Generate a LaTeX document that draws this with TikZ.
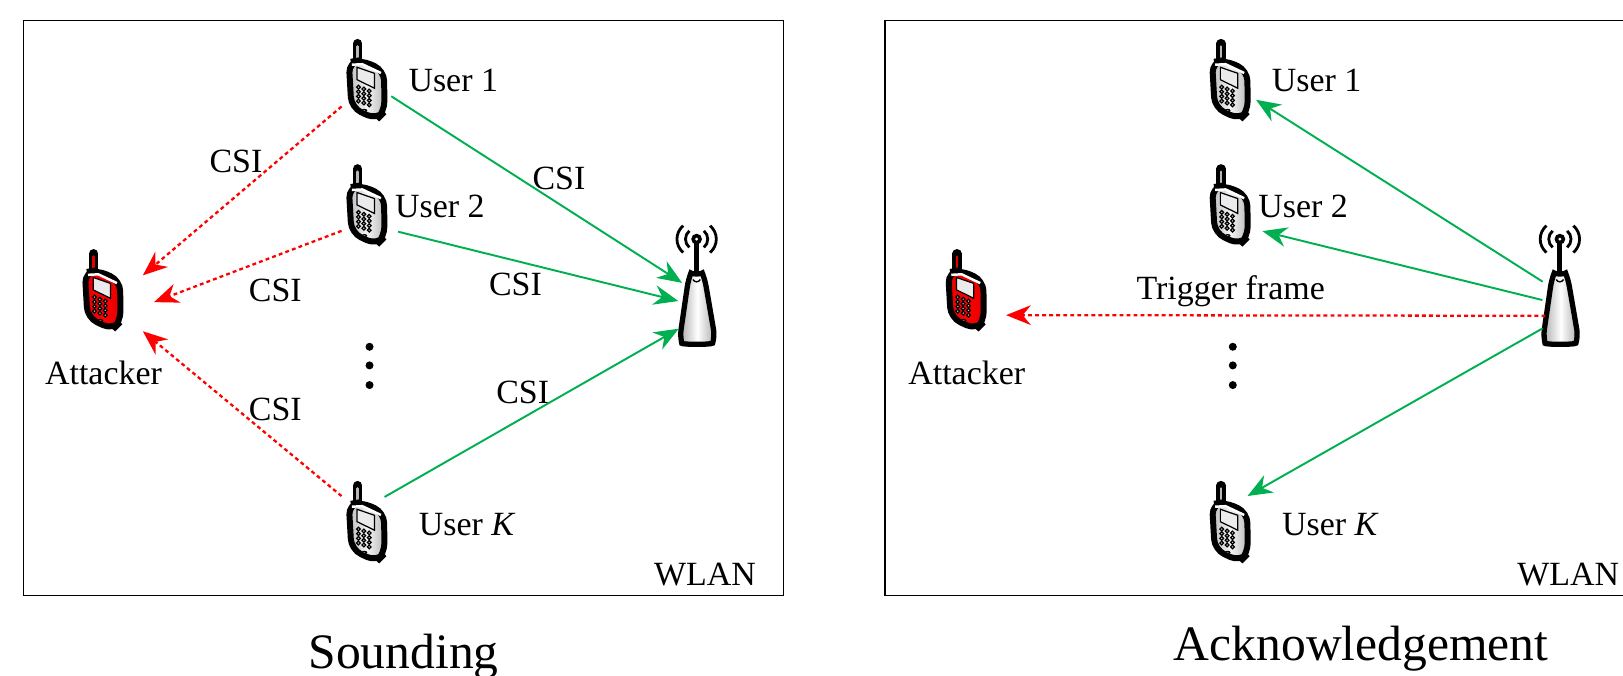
\documentclass[tikz,border=0pt]{standalone}
\usepackage{fontspec}
\setmainfont{Liberation Serif}
\usetikzlibrary{arrows.meta}

\tikzset{
  lab/.style={font=\fontsize{9.65}{11}\selectfont,inner sep=0pt},
  title/.style={font=\fontsize{14.1}{16}\selectfont,inner sep=0pt},
  phonebox/.style={rectangle,minimum width=0.497cm,minimum height=0.828cm,inner sep=0pt,outer sep=0pt},
  attbox/.style={phonebox,minimum width=0.807cm},
  apbox/.style={rectangle,minimum width=0.29cm,minimum height=1.242cm,inner sep=0pt,outer sep=0pt},
  good/.style={draw=csigreen,line width=0.55pt,-{Stealth[length=7pt,width=5.6pt]}},
  bad/.style={draw=red,line width=0.65pt,dash pattern=on 1.1pt off 0.9pt,-{Stealth[length=7pt,width=5.6pt,fill=red]}},
  vdot/.style={circle,fill=black,minimum size=0.08cm,inner sep=0pt},
  pics/phone/.style 2 args={code={
    \draw[line width=2.6pt,line cap=round] (-8.4,-36) -- (-8.4,-20);
    \draw[line width=0.8pt,line cap=round,draw=#1] (-8.4,-33) -- (-8.4,-21);
    \draw[line width=1.7pt,rounded corners=3pt,left color=#1,right color=#1,middle color=#2]
      (-17,-18) -- (-5,-20) -- (17,-10) -- (17.5,30) -- (10,37.5) -- (-14.5,26) -- cycle;
    \draw[white,line width=0.7pt] (-14,-15.5) -- (-4,-16) -- (14,-7.5);
    \draw[line width=0.35pt,fill=blue!4!gray!15] (-9,-13) -- (7.7,-7.2) -- (7.7,7.2) -- (-9,-1) -- cycle;
    \foreach \i in {0,1,2}
      \foreach \j in {0,1,2,3}
        \draw[line width=0.35pt,fill=gray!35] ({-7.7+5.2*\i},{6.1+1.9*\i+4.5*\j}) circle (1.8);
    \draw[line width=0.35pt,fill=gray!35] (-1.9,28.7) ellipse (2 and 1);
  }},
  pics/antenna/.style={code={
    \draw[line width=1.4pt] (0,-43) -- (0,-7);
    \draw[line width=1.5pt,left color=gray!65,right color=gray!65,middle color=white,rounded corners=2pt]
      (-8,-5) .. controls (-6,-10) and (6,-10) .. (8,-5) -- (17.5,50)
      .. controls (15,58) and (-14,58) .. (-16,50) -- cycle;
    \draw[line width=0.4pt,fill=white] (-3.5,-5) .. controls (-2,-2) and (2,-2) .. (3.5,-5);
    \fill (0,-44) circle (5.2);
    \fill[white] (0,-44) circle (1.5);
    \draw[line width=0.8pt] (-7,-52) .. controls (-12,-48) and (-12,-40) .. (-7,-36);
    \draw[line width=0.8pt] (7,-52) .. controls (12,-48) and (12,-40) .. (7,-36);
    \draw[line width=0.8pt] (-13,-57) .. controls (-21,-50) and (-21,-38) .. (-13,-31);
    \draw[line width=0.8pt] (13,-57) .. controls (21,-50) and (21,-38) .. (13,-31);
  }}
}
\definecolor{csigreen}{HTML}{00B050}

\begin{document}
\begin{tikzpicture}[x=0.01035cm,y=-0.01035cm]
  \useasboundingbox (0,0) rectangle (1568,653);
  \clip (0,0) rectangle (1568,653);

  \draw[line width=0.3pt] (23,20) rectangle (757,575);
  \draw[line width=0.3pt] (1568,20) -- (855,20) -- (855,575) -- (1568,575);

  \node[phonebox] (su1) at (354,78) {};
  \node[phonebox] (su2) at (354,199) {};
  \node[phonebox] (suk) at (354,505) {};
  \node[attbox] (satt) at (99,281) {};
  \node[apbox] (sap) at (673,275) {};
  \node[phonebox] (au1) at (1188,78) {};
  \node[phonebox] (au2) at (1188,199) {};
  \node[phonebox] (auk) at (1188,505) {};
  \node[attbox] (aatt) at (933,281) {};
  \node[apbox] (aap) at (1507,275) {};

  \foreach \p in {su1,su2,suk,au1,au2,auk}
    \pic at (\p) {phone={gray!55}{gray!8}};
  \foreach \p in {satt,aatt}
    \pic at (\p) {phone={red!90!black}{red}};
  \foreach \p in {sap,aap}
    \pic at (\p) {antenna};

  \node[lab,anchor=west] (su1t) at (394,78) {User 1};
  \node[lab,anchor=west] (su2t) at (381,199) {User 2};
  \node[lab,anchor=west] (sukt) at (404,507) {User \textit{K}};
  \node[lab] (satt t) at (100,360) {Attacker};
  \node[lab,anchor=west] (au1t) at (1228,78) {User 1};
  \node[lab,anchor=west] (au2t) at (1215,199) {User 2};
  \node[lab,anchor=west] (aukt) at (1238,507) {User \textit{K}};
  \node[lab] (aatt t) at (934,360) {Attacker};

  \node[lab] (c1) at (228,156) {CSI};
  \node[lab] (c2) at (266,281) {CSI};
  \node[lab] (c3) at (266,396) {CSI};
  \node[lab] (c4) at (540,172) {CSI};
  \node[lab] (c5) at (498,275) {CSI};
  \node[lab] (c6) at (505,379) {CSI};
  \node[lab] (trig) at (1189,281) {Trigger frame};
  \node[lab] (w1) at (681,555) {WLAN};
  \node[lab] (w2) at (1515,555) {WLAN};
  \node[title] (t1) at (390,634) {Sounding};
  \node[title] (t2) at (1315,627) {Acknowledgement};

  \foreach \x in {357,1191}
    \foreach \y in {335,353,372}
      \node[vdot] (d\x\y) at (\x,\y) {};

  \draw[good] (su1.-32) -- (sap.173.5);
  \draw[good,shorten <=2pt,shorten >=1.1pt] (su2.-44.2) -- (sap.230.5);
  \draw[good,shorten <=-2.2pt,shorten >=1.1pt] (suk.50.4) -- (sap.251);
  \draw[bad] (su1.226.2) -- (satt.21);
  \draw[bad,shorten >=3.4pt] (su2.225.2) -- (satt.-21.8);
  \draw[bad] (suk.133.8) -- (satt.-45);

  \draw[good,shorten <=0.9pt,shorten >=0.5pt] (aap.175.5) -- (au1.-36.4);
  \draw[good,shorten <=0.9pt,shorten >=2.3pt] (aap.228.3) -- (au2.-43.8);
  \draw[good,shorten <=0.9pt,shorten >=-2.3pt] (aap.251.3) -- (auk.51.3);
  \draw[bad] (aap.245.1) -- (aatt.-31.6);
\end{tikzpicture}
\end{document}
